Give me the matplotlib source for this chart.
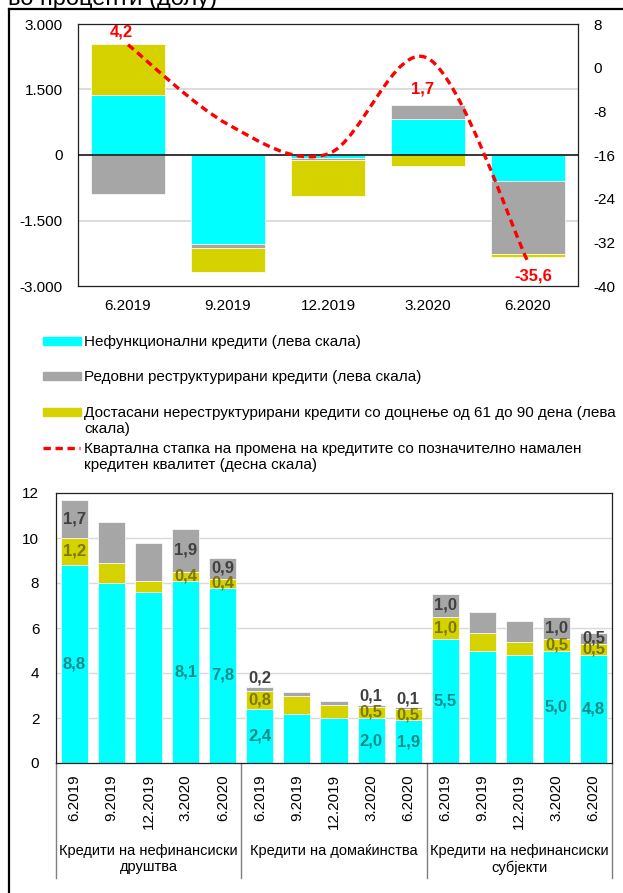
import matplotlib
matplotlib.use("Agg")
import matplotlib.pyplot as plt
import numpy as np
from matplotlib.lines import Line2D
from matplotlib.patches import PathPatch, Rectangle
from matplotlib.path import Path

# quarterly change, top panel (left scale, millions of denars)
quarters = ["6.2019", "9.2019", "12.2019", "3.2020", "6.2020"]
npl_change = [1385, -2027, -61, 826, -604]
restructured_change = [-887, -107, -61, 314, -1668]
overdue_change = [1163, -551, -811, -252, -69]
# right scale, percent
reduced_quality_rate = [4.2, -10.4, -15.8, 1.7, -35.6]
rate_labelled = [True, False, False, True, True]
left_ticks = [3000, 1500, 0, -1500, -3000]
left_tick_labels = ["3.000", "1.500", "0", "-1.500", "-3.000"]
right_ticks = [8, 0, -8, -16, -24, -32, -40]

# shares by sector, bottom panel (percent)
sectors = ["Кредити на нефинансиски\nдруштва", "Кредити на домаќинства",
           "Кредити на нефинансиски\nсубјекти"]
npl_share = [8.8, 8.0, 7.6, 8.1, 7.8,
             2.4, 2.2, 2.0, 2.0, 1.9,
             5.5, 5.0, 4.8, 5.0, 4.8]
overdue_share = [1.2, 0.9, 0.5, 0.4, 0.4,
                 0.8, 0.8, 0.6, 0.5, 0.5,
                 1.0, 0.8, 0.6, 0.5, 0.5]
restructured_share = [1.7, 1.8, 1.7, 1.9, 0.9,
                      0.2, 0.15, 0.15, 0.1, 0.1,
                      1.0, 0.9, 0.9, 1.0, 0.5]
labelled_quarters = [0, 3, 4]

legend_labels = [
    "Нефункционални кредити (лева скала)",
    "Редовни реструктурирани кредити (лева скала)",
    "Достасани нереструктурирани кредити со доцнење од 61 до 90 дена (лева\nскала)",
    "Квартална стапка на промена на кредитите со позначително намален\nкредитен квалитет (десна скала)",
]

CYAN = "#00FFFF"
GRAY = "#A6A6A6"
YELLOW = "#D5D200"
RED = "#FF0000"
LABEL_COLORS = {"npl": "#0E8A8A", "overdue": "#7A7800", "restr": "#404040"}
GRID = "#D9D9D9"
FS = 11
BOLD_FS = 12

W, H = 623, 893
plt.rcParams["font.family"] = ["Liberation Sans", "DejaVu Sans"]
plt.rcParams["font.size"] = FS


def fig_box(left, top, width, height):
    return [left / W, 1 - (top + height) / H, width / W, height / H]


def comma(v):
    return f"{v:.1f}".replace(".", ",")


def smooth_path(xs, ys):
    pts = np.column_stack([xs, ys]).astype(float)
    n = len(pts)
    verts, codes = [pts[0]], [Path.MOVETO]
    for i in range(n - 1):
        p_prev, p0 = pts[max(i - 1, 0)], pts[i]
        p1, p_next = pts[i + 1], pts[min(i + 2, n - 1)]
        verts += [p0 + (p1 - p_prev) / 6, p1 - (p_next - p0) / 6, p1]
        codes += [Path.CURVE4] * 3
    return Path(verts, codes)


def style_box(ax):
    for side in ax.spines.values():
        side.set_color("#202020")
        side.set_linewidth(0.9)
    ax.tick_params(length=0)


fig = plt.figure(figsize=(W / 100, H / 100), dpi=100)

# outer frame and clipped heading
fig.add_artist(Line2D([9 / W, 9 / W], [1 - 9 / H, 0], color="black", lw=1.6))
fig.add_artist(Line2D([9 / W, 1], [1 - 9 / H, 1 - 9 / H], color="black", lw=1.6))
fig.text(8 / W, 1 - 5 / H, "во проценти (долу)", fontsize=17, va="baseline", ha="left")

# ---- top panel ----
ax = fig.add_axes(fig_box(78, 24, 500, 262))
x = np.arange(len(quarters))
pos = np.zeros(len(quarters))
neg = np.zeros(len(quarters))
for vals, color in ((npl_change, CYAN), (restructured_change, GRAY), (overdue_change, YELLOW)):
    vals = np.asarray(vals, dtype=float)
    base = np.where(vals >= 0, pos, neg)
    ax.bar(x, vals, 0.74, bottom=base, color=color, edgecolor="white", linewidth=0.5, zorder=2)
    pos = np.where(vals >= 0, pos + vals, pos)
    neg = np.where(vals < 0, neg + vals, neg)
ax.set_xlim(-0.5, len(quarters) - 0.5)
ax.set_ylim(-3000, 3000)
ax.set_yticks(left_ticks, left_tick_labels)
ax.set_xticks(x, quarters)
for yv in (1500, -1500):
    ax.axhline(yv, color=GRID, lw=1.3, zorder=1)
ax.axhline(0, color="black", lw=1.1, zorder=3)
style_box(ax)
ax.tick_params(axis="y", pad=11)
ax.tick_params(axis="x", pad=9)

ax2 = ax.twinx()
ax2.set_ylim(-40, 8)
ax2.set_yticks(right_ticks, [str(t) for t in right_ticks])
ax2.tick_params(length=0, pad=11)
for side in ax2.spines.values():
    side.set_visible(False)
ax2.add_patch(PathPatch(smooth_path(x, reduced_quality_rate), fill=False, edgecolor=RED,
                        lw=2.4, linestyle=(0, (2.2, 1.4)), capstyle="butt", zorder=5))
rate_offsets = [(-5, 9), (0, 0), (0, 0), (-4, -22), (4, -10)]
for xi, v, show, off in zip(x, reduced_quality_rate, rate_labelled, rate_offsets):
    if show:
        ax2.annotate(comma(v), (xi, v), xytext=off, textcoords="offset points",
                     ha="center", va="center", color=RED, fontweight="bold", fontsize=BOLD_FS)

# ---- legend ----
legend_rows = [341, 376, 412, 448]
handles = [CYAN, GRAY, YELLOW, None]
for row, label, color in zip(legend_rows, legend_labels, handles):
    yc = 1 - row / H
    if color is None:
        fig.add_artist(Line2D([43 / W, 80 / W], [yc, yc], color=RED, lw=2.4,
                              linestyle=(0, (2.2, 1.4))))
    else:
        fig.add_artist(Rectangle((43 / W, yc - 4 / H), 38 / W, 8 / H, color=color,
                                 transform=fig.transFigure))
    fig.text(84 / W, yc + 6 / H, label, ha="left", va="top", fontsize=FS, linespacing=1.2)

# ---- bottom panel ----
bx = fig.add_axes(fig_box(56, 493, 556, 270))
xb = np.arange(len(npl_share))
bottom = np.zeros(len(npl_share))
segments = [("npl", npl_share, CYAN), ("overdue", overdue_share, YELLOW),
            ("restr", restructured_share, GRAY)]
for key, vals, color in segments:
    vals = np.asarray(vals, dtype=float)
    bx.bar(xb, vals, 0.73, bottom=bottom, color=color, edgecolor="white", linewidth=0.5, zorder=2)
    for i, (b, v) in enumerate(zip(bottom, vals)):
        if i % 5 not in labelled_quarters:
            continue
        if v < 0.3:
            bx.annotate(comma(v), (i, b + v), xytext=(0, 0.5), textcoords="offset points",
                        ha="center", va="bottom", color=LABEL_COLORS[key],
                        fontweight="bold", fontsize=BOLD_FS, zorder=4)
        else:
            bx.text(i, b + v / 2, comma(v), ha="center", va="center", color=LABEL_COLORS[key],
                    fontweight="bold", fontsize=BOLD_FS, zorder=4)
    bottom = bottom + vals
bx.set_xlim(-0.5, len(npl_share) - 0.5)
bx.set_ylim(0, 12)
bx.set_yticks(np.arange(0, 13, 2))
for yv in range(2, 12, 2):
    bx.axhline(yv, color=GRID, lw=1.0, zorder=1)
bx.set_xticks(xb, quarters * len(sectors), rotation=90, va="top")
style_box(bx)
bx.tick_params(axis="y", pad=12)
bx.tick_params(axis="x", pad=8)

trans = bx.get_xaxis_transform()
for sep in np.arange(-0.5, len(npl_share), 5):
    bx.plot([sep, sep], [0, -0.425], color="#7F7F7F", lw=1.0, transform=trans, clip_on=False)
for k, name in enumerate(sectors):
    bx.text(5 * k + 2, -0.3, name, transform=trans, ha="center", va="top",
            fontsize=10.5, linespacing=1.2)

fig.savefig("out.png", dpi=100)
